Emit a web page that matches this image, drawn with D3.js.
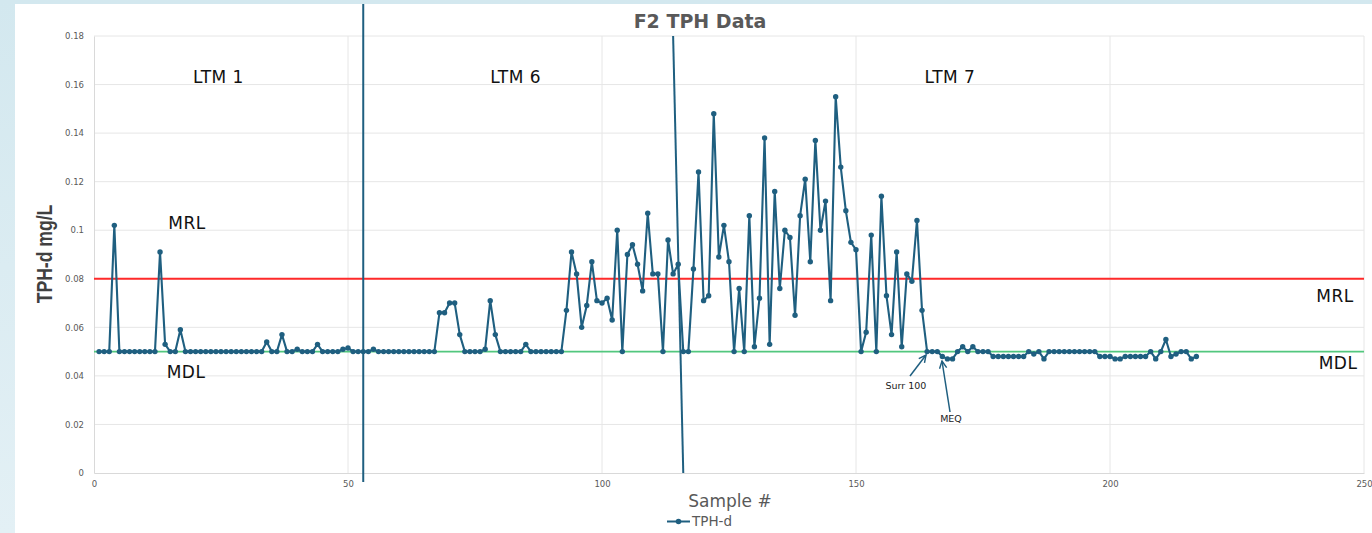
<!DOCTYPE html>
<html>
<head>
<meta charset="utf-8">
<script src="https://cdn.jsdelivr.net/npm/d3@7"></script>
<style>
  html, body { margin: 0; padding: 0; }
  body { width: 1372px; height: 533px; overflow: hidden; background: #ffffff; }
</style>
</head>
<body>
<svg id="chart" width="1372" height="533"></svg>
<script>
// ---- data ----
const tphValues = [
  0.050, 0.050, 0.050, 0.102, 0.050, 0.050, 0.050, 0.050, 0.050, 0.050,
  0.050, 0.050, 0.091, 0.053, 0.050, 0.050, 0.059, 0.050, 0.050, 0.050,
  0.050, 0.050, 0.050, 0.050, 0.050, 0.050, 0.050, 0.050, 0.050, 0.050,
  0.050, 0.050, 0.050, 0.054, 0.050, 0.050, 0.057, 0.050, 0.050, 0.051,
  0.050, 0.050, 0.050, 0.053, 0.050, 0.050, 0.050, 0.050, 0.051, 0.0515,
  0.050, 0.050, 0.050, 0.050, 0.051, 0.050, 0.050, 0.050, 0.050, 0.050,
  0.050, 0.050, 0.050, 0.050, 0.050, 0.050, 0.050, 0.066, 0.066, 0.070,
  0.070, 0.057, 0.050, 0.050, 0.050, 0.050, 0.051, 0.071, 0.057, 0.050,
  0.050, 0.050, 0.050, 0.050, 0.053, 0.050, 0.050, 0.050, 0.050, 0.050,
  0.050, 0.050, 0.067, 0.091, 0.082, 0.060, 0.069, 0.087, 0.071, 0.070,
  0.072, 0.063, 0.100, 0.050, 0.090, 0.094, 0.086, 0.075, 0.107, 0.082,
  0.082, 0.050, 0.096, 0.082, 0.086, 0.050, 0.050, 0.084, 0.124, 0.071,
  0.073, 0.148, 0.089, 0.102, 0.087, 0.050, 0.076, 0.050, 0.106, 0.052,
  0.072, 0.138, 0.053, 0.116, 0.076, 0.100, 0.097, 0.065, 0.106, 0.121,
  0.087, 0.137, 0.100, 0.112, 0.071, 0.155, 0.126, 0.108, 0.095, 0.092,
  0.050, 0.058, 0.098, 0.050, 0.114, 0.073, 0.057, 0.091, 0.052, 0.082,
  0.079, 0.104, 0.067, 0.050, 0.050, 0.050, 0.048, 0.047, 0.047, 0.050,
  0.052, 0.050, 0.052, 0.050, 0.050, 0.050, 0.048, 0.048, 0.048, 0.048,
  0.048, 0.048, 0.048, 0.050, 0.049, 0.050, 0.047, 0.050, 0.050, 0.050,
  0.050, 0.050, 0.050, 0.050, 0.050, 0.050, 0.050, 0.048, 0.048, 0.048,
  0.047, 0.047, 0.048, 0.048, 0.048, 0.048, 0.048, 0.050, 0.047, 0.050,
  0.055, 0.048, 0.049, 0.050, 0.050, 0.047, 0.048
];
const sampleNumbers = tphValues.map((v, i) => i + 1);
const xTicks = [0, 50, 100, 150, 200, 250];
const yTicks = [0, 0.02, 0.04, 0.06, 0.08, 0.1, 0.12, 0.14, 0.16, 0.18];
const MRL = 0.08;
const MDL = 0.05;
const phaseLabels = ["LTM 1", "LTM 6", "LTM 7"];
const phaseLabelSamples = [24.5, 83, 168.5];
const phaseDividers = [[53, 53], [114, 116]];

// ---- layout ----
const svg = d3.select("#chart");
const pLeft = 94, pRight = 1364, pTop = 36, pBottom = 473;
const x = d3.scaleLinear().domain([0, 250]).range([pLeft, pRight]);
const y = d3.scaleLinear().domain([0, 0.18]).range([pBottom, pTop]);
const lineColor = "#1f5f80";
const gray = "#595959";

// background frame
const defs = svg.append("defs");
const grad = defs.append("linearGradient").attr("id", "bg").attr("x1", 0).attr("y1", 0).attr("x2", 0).attr("y2", 1);
grad.append("stop").attr("offset", "0%").attr("stop-color", "#d3e8ef");
grad.append("stop").attr("offset", "100%").attr("stop-color", "#e3f0f5");
svg.append("rect").attr("x", 0).attr("y", 0).attr("width", 1372).attr("height", 533).attr("fill", "url(#bg)");
svg.append("rect").attr("x", 15).attr("y", 4).attr("width", 1357).attr("height", 529).attr("fill", "#ffffff");

const mk = defs.append("marker").attr("id", "arrow").attr("viewBox", "0 0 10 10")
  .attr("refX", 9).attr("refY", 5).attr("markerWidth", 6).attr("markerHeight", 6)
  .attr("orient", "auto-start-reverse");
mk.append("path").attr("d", "M1,1 L9,5 L1,9").attr("fill", "none").attr("stroke", lineColor).attr("stroke-width", 1.6);

// gridlines
svg.append("g").selectAll("line").data(yTicks.slice(1)).join("line")
  .attr("x1", pLeft).attr("x2", pRight).attr("y1", d => y(d)).attr("y2", d => y(d))
  .attr("stroke", "#e6e6e6").attr("stroke-width", 1);
svg.append("g").selectAll("line").data(xTicks.slice(1)).join("line")
  .attr("y1", pTop).attr("y2", pBottom).attr("x1", d => x(d)).attr("x2", d => x(d))
  .attr("stroke", "#e6e6e6").attr("stroke-width", 1);

// axes
const fmt = d => d === 0 ? "0" : String(+d.toFixed(2));
const yAxis = svg.append("g").attr("transform", `translate(${pLeft},0)`)
  .call(d3.axisLeft(y).tickValues(yTicks).tickFormat(fmt).tickSize(0).tickPadding(10));
const xAxis = svg.append("g").attr("transform", `translate(0,${pBottom})`)
  .call(d3.axisBottom(x).tickValues(xTicks).tickFormat(d3.format("d")).tickSize(0).tickPadding(8));
[yAxis, xAxis].forEach(g => {
  g.select(".domain").attr("stroke", "#d9d9d9").attr("stroke-width", 1);
  g.selectAll("text").attr("fill", gray).attr("font-family", "DejaVu Sans, sans-serif").attr("font-size", "8.5px");
});

// reference lines
svg.append("line").attr("x1", pLeft).attr("x2", pRight).attr("y1", y(MRL)).attr("y2", y(MRL))
  .attr("stroke", "#ff2a2a").attr("stroke-width", 2);
svg.append("line").attr("x1", pLeft).attr("x2", pRight).attr("y1", y(MDL)).attr("y2", y(MDL))
  .attr("stroke", "#52c77e").attr("stroke-width", 1.6);

// series
const pts = sampleNumbers.map((s, i) => [s, tphValues[i]]);
svg.append("path").datum(pts)
  .attr("d", d3.line().x(d => x(d[0])).y(d => y(d[1])))
  .attr("fill", "none").attr("stroke", lineColor).attr("stroke-width", 2.1).attr("stroke-linejoin", "round");
svg.append("g").selectAll("circle").data(pts).join("circle")
  .attr("cx", d => x(d[0])).attr("cy", d => y(d[1])).attr("r", 2.7).attr("fill", lineColor);

// phase divider lines
svg.append("line").attr("x1", x(phaseDividers[0][0])).attr("x2", x(phaseDividers[0][1]))
  .attr("y1", 4).attr("y2", 482).attr("stroke", lineColor).attr("stroke-width", 2);
svg.append("line").attr("x1", x(phaseDividers[1][0])).attr("x2", x(phaseDividers[1][1]))
  .attr("y1", y(0.18)).attr("y2", y(0)).attr("stroke", lineColor).attr("stroke-width", 2);

// text labels
const lbl = (t, px, py, size, opts = {}) => svg.append("text").text(t).attr("x", px).attr("y", py)
  .attr("text-anchor", opts.anchor || "middle").attr("font-family", opts.family || "DejaVu Sans, sans-serif")
  .attr("font-size", size + "px").attr("font-weight", opts.weight || "normal")
  .attr("fill", opts.fill || "#111111").attr("letter-spacing", opts.ls || 0);

phaseLabels.forEach((t, i) => lbl(t, x(phaseLabelSamples[i]), 83, 17, { ls: 0.5 }));
lbl("MRL", 187, 229, 17, { ls: 0.5 });
lbl("MDL", 186, 378, 17, { ls: 0.5 });
lbl("MRL", 1335, 302, 17, { ls: 0.5 });
lbl("MDL", 1338, 369, 17, { ls: 0.5 });

lbl("F2 TPH Data", 700, 28, 19, { weight: "bold", fill: gray });
lbl("Sample #", 730, 507, 17, { fill: gray });
svg.append("text").text("TPH-d mg/L")
  .attr("transform", "translate(52,254) rotate(-90) scale(0.8,1)")
  .attr("text-anchor", "middle")
  .attr("font-family", "Liberation Sans, Arial, sans-serif")
  .attr("font-weight", "bold").attr("font-size", "22px").attr("fill", "#404040");

// annotations
svg.append("line").attr("x1", 910).attr("y1", 376).attr("x2", 926).attr("y2", 355)
  .attr("stroke", lineColor).attr("stroke-width", 1.5).attr("marker-end", "url(#arrow)");
lbl("Surr 100", 906, 389, 9.5, { fill: "#222" });
svg.append("line").attr("x1", 950).attr("y1", 412).attr("x2", 942).attr("y2", 361)
  .attr("stroke", lineColor).attr("stroke-width", 1.5).attr("marker-end", "url(#arrow)");
lbl("MEQ", 951, 422, 9.5, { fill: "#222" });

// legend
svg.append("line").attr("x1", 667).attr("x2", 690).attr("y1", 521.5).attr("y2", 521.5)
  .attr("stroke", lineColor).attr("stroke-width", 2);
svg.append("circle").attr("cx", 678.5).attr("cy", 521.5).attr("r", 2.8).attr("fill", lineColor);
lbl("TPH-d", 692, 526, 13.5, { anchor: "start", fill: gray });
</script>
</body>
</html>
